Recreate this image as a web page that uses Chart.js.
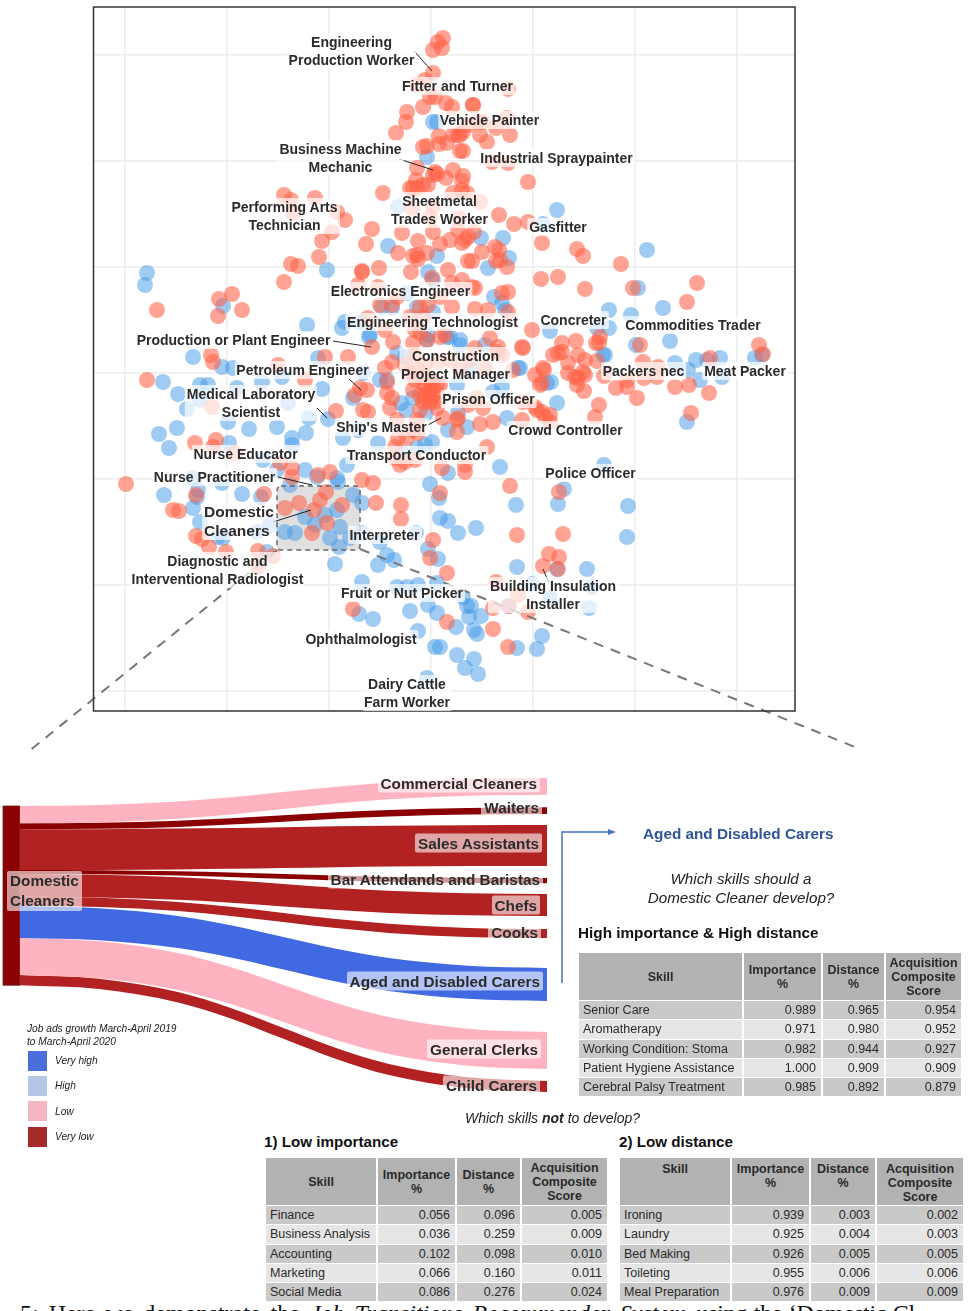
<!DOCTYPE html>
<html>
<head>
<meta charset="utf-8">
<script src="https://cdn.jsdelivr.net/npm/chart.js"></script>
<style>
html, body { margin: 0; padding: 0; background: #fff; }
#page { position: relative; width: 968px; height: 1311px; overflow: hidden; font-family: "Liberation Sans", Arial, sans-serif; color: #222; }
canvas { position: absolute; left: 0; }
.job { position: absolute; transform: translate(-50%, -50%); text-align: center; white-space: nowrap; font-weight: bold; font-size: 14px; line-height: 18px; color: #2b2b2b; background: rgba(255,255,255,0.7); padding: 0 2px; border-radius: 2px; }
.job.big { font-size: 15.5px; line-height: 19px; text-align: left; }
.occ { position: absolute; white-space: nowrap; font-weight: bold; font-size: 15.3px; line-height: 19px; color: #2b2b2b; background: rgba(255,255,255,0.6); padding: 0 3px; border-radius: 2px; transform: translateY(-50%); }
.txt { position: absolute; white-space: nowrap; }
.swatch { position: absolute; left: 28px; width: 19px; }
table { position: absolute; border-collapse: separate; border-spacing: 2px 1px; table-layout: fixed; }
td, th { padding: 0 5px 0 4px; height: 18.25px; line-height: 14px; overflow: hidden; white-space: nowrap; color: #2a2a2a; box-sizing: border-box; }
th { background: #b2b2b2; text-align: center; font-weight: bold; padding: 0 2px; }
td { text-align: right; }
td:first-child { text-align: left; }
tr.odd td { background: #c9c9c9; }
tr.even td { background: #e6e6e6; }
.topalign th { vertical-align: top; padding-top: 4px; }
</style>
</head>
<body>
<div id="page">
  <canvas id="map" width="968" height="770" style="top:0"></canvas>
  <canvas id="flows" width="968" height="340" style="top:770px"></canvas>
</div>
<script>
// occupation map, x and y, grid cell = 102 by 106 units
const redPts = [[12,335],[7,331],[11,325],[2,323],[2,300],[-6,293],[-14,288],[77,284],[-1,276],[4,276],[-8,266],[15,270],[21,266],[42,268],[42,268],[-24,261],[-25,251],[-35,240],[8,237],[8,229],[16,230],[22,238],[27,238],[32,241],[29,238],[46,251],[52,251],[49,238],[56,231],[65,245],[79,238],[76,255],[37,248],[32,222],[29,222],[-4,227],[-8,226],[61,211],[77,210],[-14,205],[4,201],[6,199],[2,198],[22,203],[15,195],[32,197],[31,192],[-15,193],[-18,185],[-8,188],[-3,188],[-14,185],[97,191],[-48,180],[22,180],[31,183],[36,180],[-21,185],[-1,156],[2,166],[-19,165],[49,171],
[-86,153],[-94,161],[-59,144],[-65,129],[-29,140],[-13,132],[-33,120],[-18,117],[-14,118],[-13,114],[-4,120],[2,141],[9,129],[19,133],[31,130],[34,133],[27,143],[43,141],[37,136],[68,158],[83,149],[97,151],[28,155],[51,121],[64,126],[68,123],[37,112],[41,112],[65,112],[69,113],[76,106],[111,130],
[-69,102],[-69,101],[-52,105],[-20,101],[17,103],[1,95],[-73,88],[-53,86],[31,93],[41,86],[44,85],[77,81],[71,80],[21,90],[21,66],[44,64],[57,63],[77,61],[101,43],[-3,68],[-11,66],[9,76],[-51,68],[-34,76],[-39,68],
[-274,63],[-212,74],[-199,79],[-189,63],[-213,57],[-147,178],[-140,173],[-116,175],[-138,160],[-99,141],[-109,132],[-112,116],[-140,109],[-133,107],[-147,91],
[146,124],[152,117],[190,109],[110,94],[127,96],[154,84],[202,85],[266,90],[256,71],
[-59,26],[-63,55],[-46,43],[-21,56],[-8,56],[9,36],[-11,40],[-16,43],[-4,33],[-38,31],[-18,30],[-83,16],[-106,16],[-220,18],[-218,11],[-153,8],[14,38],[59,35],[67,26],[91,26],[44,25],[66,21],[71,18],[-39,11],[-46,5],[-44,-9],[-64,-17],[-71,-15],[-76,-22],[-44,-20],[-39,-25],[-41,-35],[-34,-47],[-95,-38],[-68,-37],[-63,-39],[-21,0],[-18,-17],[-1,-17],[6,-20],[1,-24],[-4,-20],[-1,-29],[4,-29],[-8,-29],[6,-35],[-11,-37],[12,-45],[-14,-47],[-18,-57],[-33,-65],[-24,-65],[-13,-60],[27,-45],[26,-47],[26,-59],[49,-51],[62,-49],[52,-35],[46,-25],[37,-32],[82,3],[112,5],[104,-2],[109,-12],[92,-29],[106,-37],[114,-44],[91,-47],[56,-74],[11,-95],[34,-92],[34,-99],[-36,-85],[-31,-92],[-26,-89],[-16,-87],[-36,-74],[-101,-99],[-69,-107],[-6,-12],[1,-12],[-6,-25],[-11,-22],[6,-12],[-1,-5],[-9,-5],[-16,-7],[9,-12],[-13,3],[-26,8],[-6,8],[-16,18],[7,11],[29,3],[19,13],[39,13],[54,5],
[131,30],[145,32],[122,18],[127,20],[131,21],[147,18],[165,30],[169,36],[168,30],[166,12],[154,13],[137,10],[113,3],[111,-10],[137,0],[144,-4],[152,1],[154,-2],[147,-5],[146,-12],[153,-18],[173,-3],[185,-15],[196,-14],[196,-7],[206,-25],[212,11],[213,-5],[227,6],[226,-4],[244,-14],[258,-12],[278,-20],[279,15],[209,28],[328,28],[332,19],[168,-32],[164,-44],[260,-40],[104,-34],[111,-39],[119,-42],[119,-49],[92,25],
[-284,-7],[-219,-34],[-236,-70],[-215,-67],[-218,-74],[-196,-80],[-151,-90],[-139,-104],[-139,-95],[-305,-111],[-258,-137],[-252,-138],[-235,-122],[-167,-121],[-146,-135],[-132,-130],[-113,-102],[-105,-119],[-111,-127],[-117,-137],[-89,-132],[-104,-150],[-119,-160],[-58,-110],[-55,-130],[-30,-132],[-30,-146],[-235,-163],[-229,-166],[-222,-174],[-205,-179],[-173,-178],[-158,-183],[-173,-194],[-78,-236],[2,-167],[-1,-185],[16,-200],[16,-249],[9,-120],[-126,-7],
[79,-113],[128,-119],[86,-162],[132,-161],[118,-181],[128,-184],[112,-193],[127,-196],[65,-209],[62,-235],[78,-233],[97,-239],[62,-256],[87,-222],[77,-274]];

const bluePts = [[2,251],[6,251],[-4,216],[-43,127],[6,117],[50,135],[72,135],[78,115],[57,105],[-3,101],[-33,166],[63,76],[71,70],[74,63],[-24,80],[-49,66],[-39,65],[2,61],[-14,66],[-86,51],[-89,45],[-61,38],[-3,38],[16,36],[29,33],[2,93],[126,163],[112,149],[216,123],[207,85],[178,63],[200,58],[232,65],[119,42],[178,45],[166,45],[205,28],[239,32],[172,18],[174,18],[244,10],[265,13],[276,13],[289,15],[331,18],[324,15],[257,3],[269,-7],[291,-4],[120,-9],[126,-30],[256,-49],[89,5],
[-284,100],[-286,88],[-208,67],[-124,48],[-104,103],[-71,51],[-62,36],[-238,16],[-113,15],[-34,20],[-26,16],
[-4,33],[19,36],[29,28],[54,28],[-51,-7],[-44,-7],[-30,-30],[-18,-25],[-5,-40],[-25,-37],[-78,-25],[-68,0],[-88,-65],[-73,-57],[-53,-70],[1,-69],[-6,-72],[-14,-75],[-29,-80],[17,-57],[36,-54],[27,-40],[76,-45],[87,5],[116,-10],[69,-94],[17,-100],[-84,-92],[-94,-105],[39,3],[62,-19],[26,-12],[71,-14],
[-268,-9],[-253,-21],[-231,-12],[-223,-12],[-244,-36],[-231,-27],[-203,-49],[-254,-55],[-272,-61],[-262,-75],[-202,-70],[-182,-56],[-154,-54],[-125,-60],[-139,-65],[-139,-72],[-209,6],[-198,5],[-194,-15],[-169,-9],[-149,-4],[-143,-30],[-109,-16],[-103,-46],[-122,-45],[-168,-87],[-126,-97],[-154,-97],[-114,-104],[-141,-112],[-93,-109],[-209,-110],[-238,-105],[-233,-117],[-267,-122],[-234,-124],[-238,-135],[-189,-121],[-170,-124],[-174,-159],[-161,-152],[-231,-149],[-213,-164],[-208,-165],[-146,-159],[-136,-160],[-126,-144],[-106,-142],[-116,-152],[-101,-165],[-94,-137],[-91,-154],[-78,-122],[-69,-130],[-81,-165],[-92,-174],[-69,-160],[-51,-169],[-164,-179],[-96,-191],[-53,-192],[-44,-182],[-37,-187],[-15,-160],[-3,-176],[7,-186],[-1,-111],[8,-125],[9,-145],[17,-148],[-69,-209],[-34,-214],[-24,-214],[-13,-212],[6,-210],[-3,-232],[-21,-238],[6,-240],[-72,-241],[-58,-246],[-13,-258],[4,-274],[-4,-305],
[173,-92],[133,-116],[85,-132],[127,-131],[197,-133],[45,-155],[27,-160],[196,-164],[86,-194],[126,-196],[156,-196],[101,-211],[161,-214],[158,-235],[119,-225],[77,-233],[32,-224],[36,-233],[40,-233],[50,-243],[38,-244],[25,-254],[43,-257],[46,-261],[111,-263],[86,-275],[106,-276],[26,-282],[43,-286],[34,-295],[47,-301],[9,-274]];

const gridX = [-306,-204,-102,0,102,204,306];
const gridY = [318,212,106,0,-106,-212,-318];

// text, x, y of the job labels
const jobLabels = [
  ['Engineering<br>Production Worker',-79.5,322],['Fitter and Turner',26.5,287],['Vehicle Painter',58.5,253],
  ['Business Machine<br>Mechanic',-90.5,215],['Industrial Spraypainter',125.5,215],['Performing Arts<br>Technician',-146.5,157],
  ['Sheetmetal<br>Trades Worker',8.5,163],['Gasfitter',127,146],['Electronics Engineer',-30.5,82],
  ['Engineering Technologist',1.5,51],['Concreter',142.5,53],['Commodities Trader',262,48],
  ['Production or Plant Engineer',-197.5,33],['Construction<br>Project Manager',24.5,8],['Petroleum Engineer',-128.5,3],
  ['Packers nec',212.5,2],['Meat Packer',314,2],['Medical Laboratory<br>Scientist',-180,-30],
  ['Prison Officer',57.5,-26],["Ship's Master",-49.5,-54],['Crowd Controller',134.5,-57],['Nurse Educator',-185.5,-81],
  ['Transport Conductor',-14.5,-82],['Nurse Practitioner',-216.5,-104],['Police Officer',159.5,-100],
  ['Interpreter',-46.5,-162],['Diagnostic and<br>Interventional Radiologist',-213.5,-197],['Fruit or Nut Picker',-29,-220],
  ['Building Insulation<br>Installer',122,-222],['Ophthalmologist',-70,-266],['Dairy Cattle<br>Farm Worker',-24,-320]
];
const bigLabel = ['Domestic<br>Cleaners',-192,-148];

// leader lines from label to point
const leaders = [[-17,322,1,302],[-32,214,2,203],[-98,32,-60,26],[-82,-6,-70,-17],[-114,-35,-104,-45],[-3,-52,10,-45],[-153,-104,-119,-112],[-158,-149,-120,-137],[112,-196,118,-210]];
// selected region and the two zoom lines that run out of it
const zoomBox = [-154,-113,-71,-177];
const zoomLines = [[-154,-177,-403,-379],[-71,-176,424,-374]];

// sankey, edges read at flowX along the band
const flowX = [0,15,30,40,50,60,70,85,100];
const commercialTop = [36,35,31.5,27.3,22,16.7,12.5,9,8];
const commercialBottom = [53.3,52.3,48.7,44.4,39,33.6,29.3,25.7,24.7];
const waitersTop = [53.3,52.7,50.7,48.3,45.3,42.3,39.9,37.9,37.3];
const waitersBottom = [59.3,58.8,56.9,54.6,51.7,48.7,46.4,44.5,44];
const salesTop = [59.3,59.2,58.6,58,57.2,56.3,55.7,55.2,55];
const salesBottom = [100,99.9,99.4,98.8,98,97.2,96.6,96.1,96];
const barTop = [100,100.3,101.3,102.5,104,105.5,106.7,107.7,108];
const barBottom = [104,104.3,105.5,106.9,108.7,110.4,111.8,113,113.3];
const chefsTop = [104,104.7,107.2,110.2,114,117.8,120.8,123.3,124];
const chefsBottom = [126.7,127.4,129.8,132.7,136.4,140,142.9,145.3,146];
const cooksTop = [126.7,127.8,131.9,136.7,142.9,149,153.8,157.9,159];
const cooksBottom = [136,137.1,141.1,145.9,152,158.1,162.9,166.9,168];
const agedTop = [136,138.2,145.9,155.2,167,178.8,188.1,195.8,198];
const agedBottom = [168,170.2,178.1,187.5,199.5,211.5,220.9,228.8,231];
const clerksTop = [168,171.3,183,197.1,215,232.9,247,258.7,262];
const clerksBottom = [205,208.3,220,234.1,252,269.9,284,295.7,299];
const childTop = [205,208.7,222,237.9,258,278.1,294,307.3,311];
const childBottom = [215.3,219,232.4,248.4,268.7,288.9,305,318.3,322];

const occLabels = [
  ['Commercial Cleaners',540,783],['Waiters',542,807],['Sales Assistants',542,843],['Bar Attendands and Baristas',543,879],
  ['Chefs',540,905],['Cooks',541,932],['Aged and Disabled Carers',543,981],['General Clerks',541,1049],['Child Carers',540,1085]
];

// tables
const tableHead = ['Skill','Importance<br>%','Distance<br>%','Acquisition<br>Composite<br>Score'];
const highSkills = [['Senior Care','0.989','0.965','0.954'],['Aromatherapy','0.971','0.980','0.952'],['Working Condition: Stoma','0.982','0.944','0.927'],['Patient Hygiene Assistance','1.000','0.909','0.909'],['Cerebral Palsy Treatment','0.985','0.892','0.879']];
const lowImportance = [['Finance','0.056','0.096','0.005'],['Business Analysis','0.036','0.259','0.009'],['Accounting','0.102','0.098','0.010'],['Marketing','0.066','0.160','0.011'],['Social Media','0.086','0.276','0.024']];
const lowDistance = [['Ironing','0.939','0.003','0.002'],['Laundry','0.925','0.004','0.003'],['Bed Making','0.926','0.005','0.005'],['Toileting','0.955','0.006','0.006'],['Meal Preparation','0.976','0.009','0.009']];

const legendNames = ['Very high','High','Low','Very low'];
const legendColors = ['#4a6fdc','#b4c7e7','#f4b6c2','#a52a2a'];
const legendTops = [1051,1076,1101,1127];
const legendTextTops = [1055,1080,1106,1131];

const page = document.getElementById('page');
Chart.defaults.font.family = '"Liberation Sans", Arial, sans-serif';
Chart.defaults.animation = false;

function addText(html, css, cls) {
  const d = document.createElement('div');
  d.className = cls || 'txt';
  d.innerHTML = html;
  d.style.cssText = css;
  page.appendChild(d);
  return d;
}

const mapPlugin = {
  id: 'mapExtras',
  beforeDatasetsDraw(c) {
    const x = c.scales.x, y = c.scales.y, ctx = c.ctx;
    const l = x.getPixelForValue(zoomBox[0]), t = y.getPixelForValue(zoomBox[1]);
    const r = x.getPixelForValue(zoomBox[2]), b = y.getPixelForValue(zoomBox[3]);
    ctx.save();
    ctx.beginPath();
    ctx.roundRect(l, t, r - l, b - t, 4);
    ctx.fillStyle = '#e0e0e0';
    ctx.fill();
    ctx.restore();
  },
  afterDatasetsDraw(c) {
    const x = c.scales.x, y = c.scales.y, ctx = c.ctx, a = c.chartArea;
    const l = x.getPixelForValue(zoomBox[0]), t = y.getPixelForValue(zoomBox[1]);
    const r = x.getPixelForValue(zoomBox[2]), b = y.getPixelForValue(zoomBox[3]);
    ctx.save();
    ctx.strokeStyle = '#666';
    ctx.lineWidth = 1.5;
    ctx.setLineDash([5, 4]);
    ctx.beginPath();
    ctx.roundRect(l, t, r - l, b - t, 4);
    ctx.stroke();
    // zoom lines
    ctx.strokeStyle = '#777';
    ctx.lineWidth = 2;
    ctx.setLineDash([10, 8]);
    zoomLines.forEach(s => {
      ctx.beginPath();
      ctx.moveTo(x.getPixelForValue(s[0]), y.getPixelForValue(s[1]));
      ctx.lineTo(x.getPixelForValue(s[2]), y.getPixelForValue(s[3]));
      ctx.stroke();
    });
    ctx.setLineDash([]);
    ctx.strokeStyle = '#222';
    ctx.lineWidth = 1;
    leaders.forEach(s => {
      ctx.beginPath();
      ctx.moveTo(x.getPixelForValue(s[0]), y.getPixelForValue(s[1]));
      ctx.lineTo(x.getPixelForValue(s[2]), y.getPixelForValue(s[3]));
      ctx.stroke();
    });
    ctx.strokeStyle = '#333';
    ctx.lineWidth = 1.5;
    ctx.strokeRect(a.left, a.top, a.width, a.height);
    ctx.restore();
  }
};

const mapChart = new Chart(document.getElementById('map'), {
  type: 'scatter',
  data: {
    datasets: [
      { data: redPts.map(p => ({ x: p[0], y: p[1] })), backgroundColor: 'rgba(255,99,71,0.58)', borderWidth: 0, pointRadius: 8 },
      { data: bluePts.map(p => ({ x: p[0], y: p[1] })), backgroundColor: 'rgba(66,153,232,0.5)', borderWidth: 0, pointRadius: 8 }
    ]
  },
  options: {
    responsive: false, events: [],
    layout: { autoPadding: false, padding: { left: 93.5, right: 173, top: 7, bottom: 59 } },
    plugins: { legend: { display: false }, tooltip: { enabled: false } },
    scales: {
      x: { type: 'linear', min: -337.5, max: 364, afterBuildTicks: s => { s.ticks = gridX.map(v => ({ value: v })); },
           ticks: { display: false }, border: { display: false }, grid: { color: '#ececec', lineWidth: 1.5, drawTicks: false } },
      y: { type: 'linear', min: -338, max: 366, afterBuildTicks: s => { s.ticks = gridY.map(v => ({ value: v })); },
           ticks: { display: false }, border: { display: false }, grid: { color: '#ececec', lineWidth: 1.5, drawTicks: false } }
    }
  },
  plugins: [mapPlugin]
});

jobLabels.forEach(j => {
  const px = mapChart.scales.x.getPixelForValue(j[1]), py = mapChart.scales.y.getPixelForValue(j[2]);
  addText(j[0], `left:${px}px;top:${py}px`, 'job');
});
addText(bigLabel[0], `left:${mapChart.scales.x.getPixelForValue(bigLabel[1])}px;top:${mapChart.scales.y.getPixelForValue(bigLabel[2])}px`, 'job big');

// sankey bands, one filled pair of edges per occupation
const pink = '#ffb3c0', dark = '#8b0000', fire = '#b22222', royal = '#4169e1';
const bands = [
  [commercialTop, commercialBottom, pink],[waitersTop, waitersBottom, dark],[salesTop, salesBottom, fire],
  [barTop, barBottom, dark],[chefsTop, chefsBottom, fire],[cooksTop, cooksBottom, fire],
  [agedTop, agedBottom, royal],[clerksTop, clerksBottom, pink],[childTop, childBottom, fire]
];
const flowSets = [];
bands.forEach(b => {
  flowSets.push({ data: flowX.map((v, i) => ({ x: v, y: b[0][i] })), borderWidth: 0, pointRadius: 0, cubicInterpolationMode: 'monotone', fill: false });
  flowSets.push({ data: flowX.map((v, i) => ({ x: v, y: b[1][i] })), borderWidth: 0, pointRadius: 0, cubicInterpolationMode: 'monotone', fill: '-1', backgroundColor: b[2] });
});
// source node
const nodeX = [-3.2, 0], nodeTop = [36, 36], nodeBottom = [215.3, 215.3];
flowSets.push({ data: nodeX.map((v, i) => ({ x: v, y: nodeTop[i] })), borderWidth: 0, pointRadius: 0, fill: false });
flowSets.push({ data: nodeX.map((v, i) => ({ x: v, y: nodeBottom[i] })), borderWidth: 0, pointRadius: 0, fill: '-1', backgroundColor: dark });
flowSets.push({ data: [[-3.2,36],[0,36],[0,215.3],[-3.2,215.3],[-3.2,36]].map(p => ({ x: p[0], y: p[1] })), borderColor: '#666', borderWidth: 1, pointRadius: 0, fill: false, clip: false });

new Chart(document.getElementById('flows'), {
  type: 'line',
  data: { datasets: flowSets },
  options: {
    responsive: false, events: [], parsing: false,
    layout: { padding: { left: 3, right: 421, top: 0, bottom: 0 } },
    plugins: { legend: { display: false }, tooltip: { enabled: false } },
    scales: {
      x: { type: 'linear', min: -3.2, max: 100, display: false },
      y: { type: 'linear', min: 0, max: 340, reverse: true, display: false }
    }
  }
});

occLabels.forEach(o => {
  addText(o[0], `right:${968 - o[1]}px;top:${o[2]}px`, 'occ');
});
addText('Domestic<br>Cleaners', 'left:7px;top:891px;line-height:20px', 'occ');

// legend
addText('Job ads growth March-April 2019<br>to March-April 2020', 'left:27px;top:1022px;font-size:10.2px;font-style:italic;line-height:13px');
legendNames.forEach((n, i) => {
  const s = document.createElement('div');
  s.className = 'swatch';
  s.style.top = legendTops[i] + 'px';
  s.style.height = '20px';
  s.style.background = legendColors[i];
  page.appendChild(s);
  addText(n, `left:55px;top:${legendTextTops[i]}px;font-size:10.2px;font-style:italic`);
});

// arrow to the table
page.insertAdjacentHTML('beforeend', '<svg style="position:absolute;left:555px;top:825px" width="70" height="165"><path d="M7 158V7H54" fill="none" stroke="#4472c4" stroke-width="1.5"/><path d="M53 4L61 7L53 10Z" fill="#4472c4"/></svg>');

// headings
addText('Aged and Disabled Carers', 'left:643px;top:825px;font-size:15.3px;font-weight:bold;color:#2f5597');
addText('Which skills should a', 'left:741px;top:870px;transform:translateX(-50%);font-size:15.2px;font-style:italic');
addText('Domestic Cleaner develop?', 'left:741px;top:889px;transform:translateX(-50%);font-size:15.2px;font-style:italic');
addText('High importance &amp; High distance', 'left:578px;top:924px;font-size:15.3px;font-weight:bold;color:#111');
addText('Which skills <b>not</b> to develop?', 'left:465px;top:1110px;font-size:14px;font-style:italic');
addText('1) Low importance', 'left:264px;top:1133px;font-size:15.2px;font-weight:bold;color:#111');
addText('2) Low distance', 'left:619px;top:1133px;font-size:15.2px;font-weight:bold;color:#111');

function addTable(rows, left, top, widths, extra, size) {
  const t = document.createElement('table');
  t.style.left = (left - 2) + 'px';
  t.style.top = (top - 1) + 'px';
  t.style.fontSize = size + 'px';
  t.style.width = (widths.reduce((a, b) => a + b, 0) + 10) + 'px';
  let h = '<colgroup>' + widths.map(w => `<col style="width:${w}px">`).join('') + '</colgroup>';
  h += `<tr class="${extra}" style="height:47px">` + tableHead.map(c => `<th>${c}</th>`).join('') + '</tr>';
  rows.forEach((r, i) => {
    h += `<tr class="${i % 2 ? 'even' : 'odd'}">` + r.map(c => `<td>${c}</td>`).join('') + '</tr>';
  });
  t.innerHTML = h;
  page.appendChild(t);
}
addTable(highSkills, 579, 953, [163,77,61,75], '', 12.5);
addTable(lowImportance, 266, 1158, [110,77,63,85], '', 12.5);
addTable(lowDistance, 620, 1158, [110,77,64,86], 'topalign', 12.5);

// caption cut off by the page edge
addText('5: Here we demonstrate the <i>Job Transitions Recommender System</i> <span style="word-spacing:1px;letter-spacing:-0.3px">using the ‘Domestic Cl</span>', 'left:20px;top:1300px;font-family:\'Liberation Serif\',serif;font-size:24px;color:#111;word-spacing:4px');
</script>
</body>
</html>
